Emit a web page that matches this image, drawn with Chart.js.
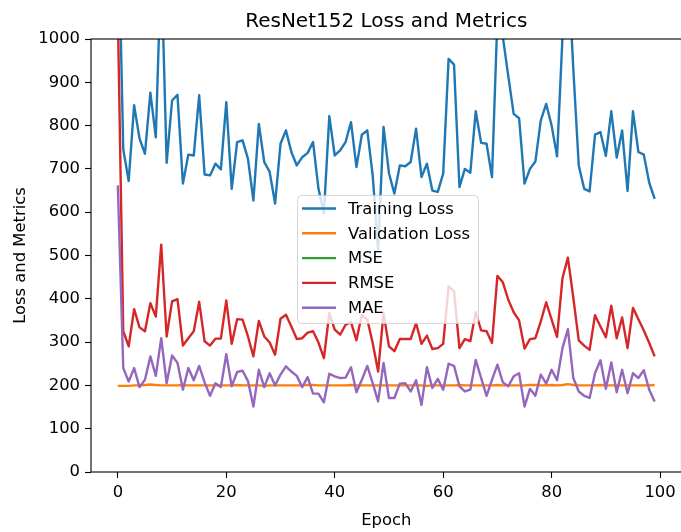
<!DOCTYPE html>
<html>
<head>
    <title>ResNet152 Loss and Metrics</title>
    <script src="https://cdn.jsdelivr.net/npm/chart.js"></script>
    <style>
        html, body { margin: 0; padding: 0; background: #fff; overflow: hidden; }
        canvas { display: block; }
    </style>
</head>
<body>
    <canvas id="lossChart" width="700" height="532"></canvas>

    <script>
        // Values (epochs 0..99)
        const epochs = Array.from({ length: 100 }, (_, i) => i);
        const xTicks = [0, 20, 40, 60, 80, 100];
        const yTicks = [0, 100, 200, 300, 400, 500, 600, 700, 800, 900, 1000];

        const trainLoss = [
            1320, 745, 672, 847, 770, 735, 876, 773, 1180, 714,
            858, 871, 666, 733, 731, 870, 687, 685, 712, 699,
            854, 654, 762, 766, 723, 627, 804, 716, 693, 620,
            758, 789, 739, 708, 727, 737, 762, 654, 598, 822,
            731, 743, 762, 808, 704, 779, 789, 685, 515, 797,
            690, 643, 708, 706, 716, 793, 681, 712, 650, 647,
            689, 954, 941, 658, 700, 691, 833, 760, 758, 681,
            1050, 1005, 915, 827, 817, 666, 700, 717, 812, 850,
            800, 729, 1005, 1180, 930, 708, 654, 648, 779, 785,
            730, 833, 726, 789, 649, 833, 739, 733, 668, 631
        ];
        const valLoss = [
            199, 199, 199, 200, 200, 201, 202, 201, 200, 200,
            200, 200, 201, 200, 200, 200, 200, 200, 200, 200,
            200, 200, 201, 200, 200, 200, 200, 199, 200, 200,
            200, 200, 200, 200, 200, 201, 201, 200, 200, 200,
            200, 200, 200, 201, 200, 200, 200, 200, 200, 200,
            200, 200, 200, 200, 200, 200, 200, 199, 200, 200,
            200, 200, 200, 201, 200, 200, 200, 200, 200, 200,
            201, 200, 200, 200, 200, 200, 201, 201, 200, 200,
            201, 200, 201, 203, 201, 200, 200, 200, 200, 201,
            200, 200, 200, 200, 200, 200, 200, 200, 200, 201
        ];
        // MSE sits far above the visible range
        const mse = [
            1123600, 105600, 84100, 141400, 111600, 105600, 152100, 128900, 275600, 98000,
            155200, 159200, 85300, 95500, 105600, 154400, 91200, 85300, 94900, 94900,
            156800, 87600, 124600, 123900, 98000, 71300, 121800, 98000, 89400, 73400,
            125300, 131800, 112900, 94200, 95500, 103700, 105600, 89400, 69200, 134700,
            108200, 100500, 115600, 119700, 92400, 131800, 123900, 88800, 53800, 134700,
            84100, 77800, 94200, 94200, 94200, 118300, 87600, 99200, 80700, 81800,
            87600, 184000, 173900, 81800, 94200, 91200, 136200, 106900, 105600, 88800,
            205200, 191800, 158400, 136200, 122500, 81200, 94200, 95500, 121100, 153700,
            123900, 97300, 200700, 245000, 161600, 92400, 85300, 79500, 131000, 112900,
            96700, 147500, 95500, 127400, 81800, 143600, 124600, 106900, 88800, 71300
        ];
        const rmse = [
            1060, 325, 290, 376, 334, 325, 390, 359, 525, 313,
            394, 399, 292, 309, 325, 393, 302, 292, 308, 308,
            396, 296, 353, 352, 313, 267, 349, 313, 299, 271,
            354, 363, 336, 307, 309, 322, 325, 299, 263, 367,
            329, 317, 340, 346, 304, 363, 352, 298, 232, 367,
            290, 279, 307, 307, 307, 344, 296, 315, 284, 286,
            296, 429, 417, 286, 307, 302, 369, 327, 325, 298,
            453, 438, 398, 369, 350, 285, 307, 309, 348, 392,
            352, 312, 448, 495, 402, 304, 292, 282, 362, 336,
            311, 384, 309, 357, 286, 379, 353, 327, 298, 267
        ];
        const mae = [
            662, 240, 209, 240, 196, 213, 267, 222, 309, 205,
            269, 252, 190, 240, 212, 245, 207, 176, 205, 196,
            272, 198, 231, 234, 210, 151, 236, 196, 228, 200,
            225, 244, 232, 222, 196, 219, 181, 181, 161, 227,
            221, 217, 218, 242, 184, 213, 245, 205, 163, 252,
            171, 171, 204, 205, 186, 212, 155, 242, 194, 215,
            190, 250, 245, 198, 186, 190, 259, 217, 176, 213,
            248, 207, 198, 221, 228, 151, 192, 176, 225, 204,
            236, 212, 286, 330, 217, 186, 176, 171, 228, 258,
            192, 253, 184, 236, 182, 228, 217, 235, 190, 163
        ];

        const chartTitle = 'ResNet152 Loss and Metrics';
        const seriesNames = ['Training Loss', 'Validation Loss', 'MSE', 'RMSE', 'MAE'];
        const seriesColors = ['#1f77b4', '#ff7f0e', '#2ca02c', '#d62728', '#9467bd'];
        const seriesValues = [trainLoss, valLoss, mse, rmse, mae];

        const tickFont = { family: 'DejaVu Sans', size: 16.4 };

        // title centred over the plot area (not the whole canvas), plus the frame
        const framePlugin = {
            id: 'frame',
            afterDatasetsDraw(chart) {
                const { ctx, chartArea: a } = chart;
                ctx.save();
                ctx.strokeStyle = '#000';
                ctx.lineWidth = 1.1;
                ctx.strokeRect(a.left, a.top, a.right - a.left, a.bottom - a.top);
                ctx.font = '20px "DejaVu Sans"';
                ctx.fillStyle = '#000';
                ctx.textAlign = 'center';
                ctx.textBaseline = 'middle';
                ctx.fillText(chartTitle, (a.left + a.right) / 2, 22);
                ctx.restore();
            }
        };

        // legend box inside the plot, like matplotlib's "best" location
        const legendPlugin = {
            id: 'mplLegend',
            afterDraw(chart) {
                const ctx = chart.ctx;
                const box = { x: 297, y: 195, w: 181, h: 128 };
                ctx.save();
                ctx.beginPath();
                ctx.roundRect(box.x + 0.5, box.y + 0.5, box.w, box.h, 4);
                ctx.fillStyle = 'rgba(255,255,255,0.8)';
                ctx.fill();
                ctx.strokeStyle = 'rgba(204,204,204,0.8)';
                ctx.lineWidth = 1;
                ctx.stroke();
                ctx.font = '16.4px "DejaVu Sans"';
                ctx.textBaseline = 'middle';
                ctx.fillStyle = '#000';
                seriesNames.forEach((name, i) => {
                    const y = 208.5 + i * 24.8;
                    ctx.strokeStyle = seriesColors[i];
                    ctx.lineWidth = 2.4;
                    ctx.beginPath();
                    ctx.moveTo(302, y);
                    ctx.lineTo(336, y);
                    ctx.stroke();
                    ctx.fillText(name, 348, y + 1);
                });
                ctx.restore();
            }
        };

        const ctx = document.getElementById('lossChart').getContext('2d');
        const chart = new Chart(ctx, {
            type: 'line',
            data: {
                datasets: seriesNames.map((name, i) => ({
                    label: name,
                    data: seriesValues[i].map((v, j) => ({ x: epochs[j], y: v })),
                    borderColor: seriesColors[i],
                    backgroundColor: seriesColors[i],
                    borderWidth: 2.4,
                    borderJoinStyle: 'round',
                    pointRadius: 0,
                    tension: 0,
                    fill: false,
                    order: seriesNames.length - i
                }))
            },
            options: {
                responsive: false,
                animation: false,
                devicePixelRatio: 1,
                layout: { padding: { left: 0, right: 18.5, top: 39, bottom: 0 } },
                plugins: {
                    legend: { display: false },
                    tooltip: { enabled: false },
                    title: { display: false }
                },
                scales: {
                    x: {
                        type: 'linear',
                        min: -4.95,
                        max: 103.95,
                        afterBuildTicks: s => { s.ticks = xTicks.map(v => ({ value: v })); },
                        afterFit: s => { s.height = 60; },
                        ticks: { color: '#000', font: tickFont, padding: 5, maxRotation: 0, callback: v => String(v) },
                        grid: { display: true, drawOnChartArea: false, drawTicks: true, tickLength: 6, tickWidth: 1.1, tickColor: '#000' },
                        border: { display: false },
                        title: { display: true, text: 'Epoch', color: '#000', font: tickFont, padding: { top: 0, bottom: 1 } }
                    },
                    y: {
                        type: 'linear',
                        min: 0,
                        max: 1000,
                        afterBuildTicks: s => { s.ticks = yTicks.map(v => ({ value: v })); },
                        afterFit: s => { s.width = 91; },
                        ticks: { color: '#000', font: tickFont, padding: 5, callback: v => String(v) },
                        grid: { display: true, drawOnChartArea: false, drawTicks: true, tickLength: 6, tickWidth: 1.1, tickColor: '#000' },
                        border: { display: false },
                        title: { display: true, text: 'Loss and Metrics', color: '#000', font: tickFont, padding: { top: 11, bottom: 0 } }
                    }
                }
            },
            plugins: [framePlugin, legendPlugin]
        });
    </script>
</body>
</html>
